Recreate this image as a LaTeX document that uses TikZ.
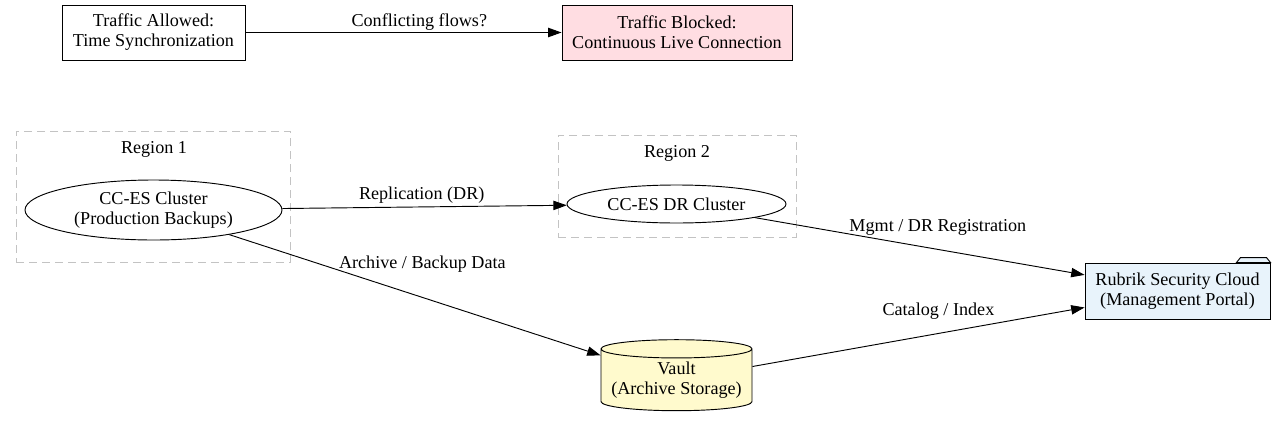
\documentclass[tikz,border=0pt]{standalone}
\usepackage{fontspec}
\setmainfont{Liberation Serif}
\usepackage{xcolor}
\definecolor{blockedpink}{RGB}{255, 221, 226}
\definecolor{portalblue}{RGB}{232, 243, 251}
\definecolor{vaultyellow}{RGB}{255, 250, 205}
\definecolor{regiongray}{RGB}{195, 195, 195}
\usepackage{tikz}
\usetikzlibrary{shapes.geometric, arrows.meta, positioning, fit}

\begin{document}
\begin{tikzpicture}[x=0.75pt, y=-0.75pt,
        font=\fontsize{13.6}{15}\selectfont,
        box/.style={rectangle, draw, line width=0.7pt, align=center, inner sep=0pt},
        cluster/.style={ellipse, draw, line width=0.7pt, align=center, inner sep=0pt},
        store/.style={cylinder, shape border rotate=90, aspect=0.14, draw, line width=0.7pt, fill=vaultyellow, align=center, inner sep=0pt},
        region/.style={rectangle, draw=regiongray, line width=0.75pt, dash pattern=on 6pt off 3.75pt, inner sep=0pt},
        flow/.style={draw, -{Triangle[length=10pt, width=7pt]}, line width=0.7pt},
        lbl/.style={inner sep=1pt}]

        \useasboundingbox (0,0) rectangle (1277,422);

        % top row
        \node [box, minimum width=137.25pt, minimum height=41.25pt] (allowed) at (153.5,32.5) {Traffic Allowed:\\Time Synchronization};
        \node [box, fill=blockedpink, minimum width=172.5pt, minimum height=41.25pt] (blocked) at (677,32.5) {Traffic Blocked:\\Continuous Live Connection};

        % regions
        \node [region, fit={(16,131) (290,262)}] (region1) {};
        \node [lbl] (region1lbl) at (154,149) {Region 1};
        \node [region, fit={(558,135) (796,237)}] (region2) {};
        \node [lbl] (region2lbl) at (677,153) {Region 2};

        % clusters
        \node [cluster, minimum width=192.75pt, minimum height=45pt] (prod) at (153.5,210) {CC-ES Cluster\\(Production Backups)};
        \node [cluster, minimum width=164.25pt, minimum height=28.5pt] (dr) at (676.5,204) {CC-ES DR Cluster};

        % storage and portal
        \node [store, minimum width=113.25pt, minimum height=53.25pt] (vault) at (676.5,380) {Vault\\(Archive Storage)};
        \node [box, fill=portalblue, minimum width=138.75pt, minimum height=42pt] (rsc) at (1177.5,291) {Rubrik Security Cloud\\(Management Portal)};
        \draw [line width=0.7pt, fill=portalblue] ([xshift=-25.5pt]rsc.north east) -- ++(3pt,3.75pt) -- ++(19.5pt,0) -- (rsc.north east) -- cycle;

        % connections
        \path [flow] (allowed) -- node [lbl, pos=0.55, above] {Conflicting flows?} (blocked);
        \path [flow] (prod) -- node [lbl, pos=0.49, above=1pt] {Replication (DR)} (dr);
        \path [flow] (prod) -- node [lbl, pos=0.52, above=17.5pt] {Archive / Backup Data} (vault);
        \path [flow] (dr) -- node [lbl, pos=0.555, above=9pt] {Mgmt / DR Registration} (rsc);
        \path [flow] (vault) -- node [lbl, pos=0.56, above=9pt] {Catalog / Index} (rsc);
    \end{tikzpicture}
\end{document}
